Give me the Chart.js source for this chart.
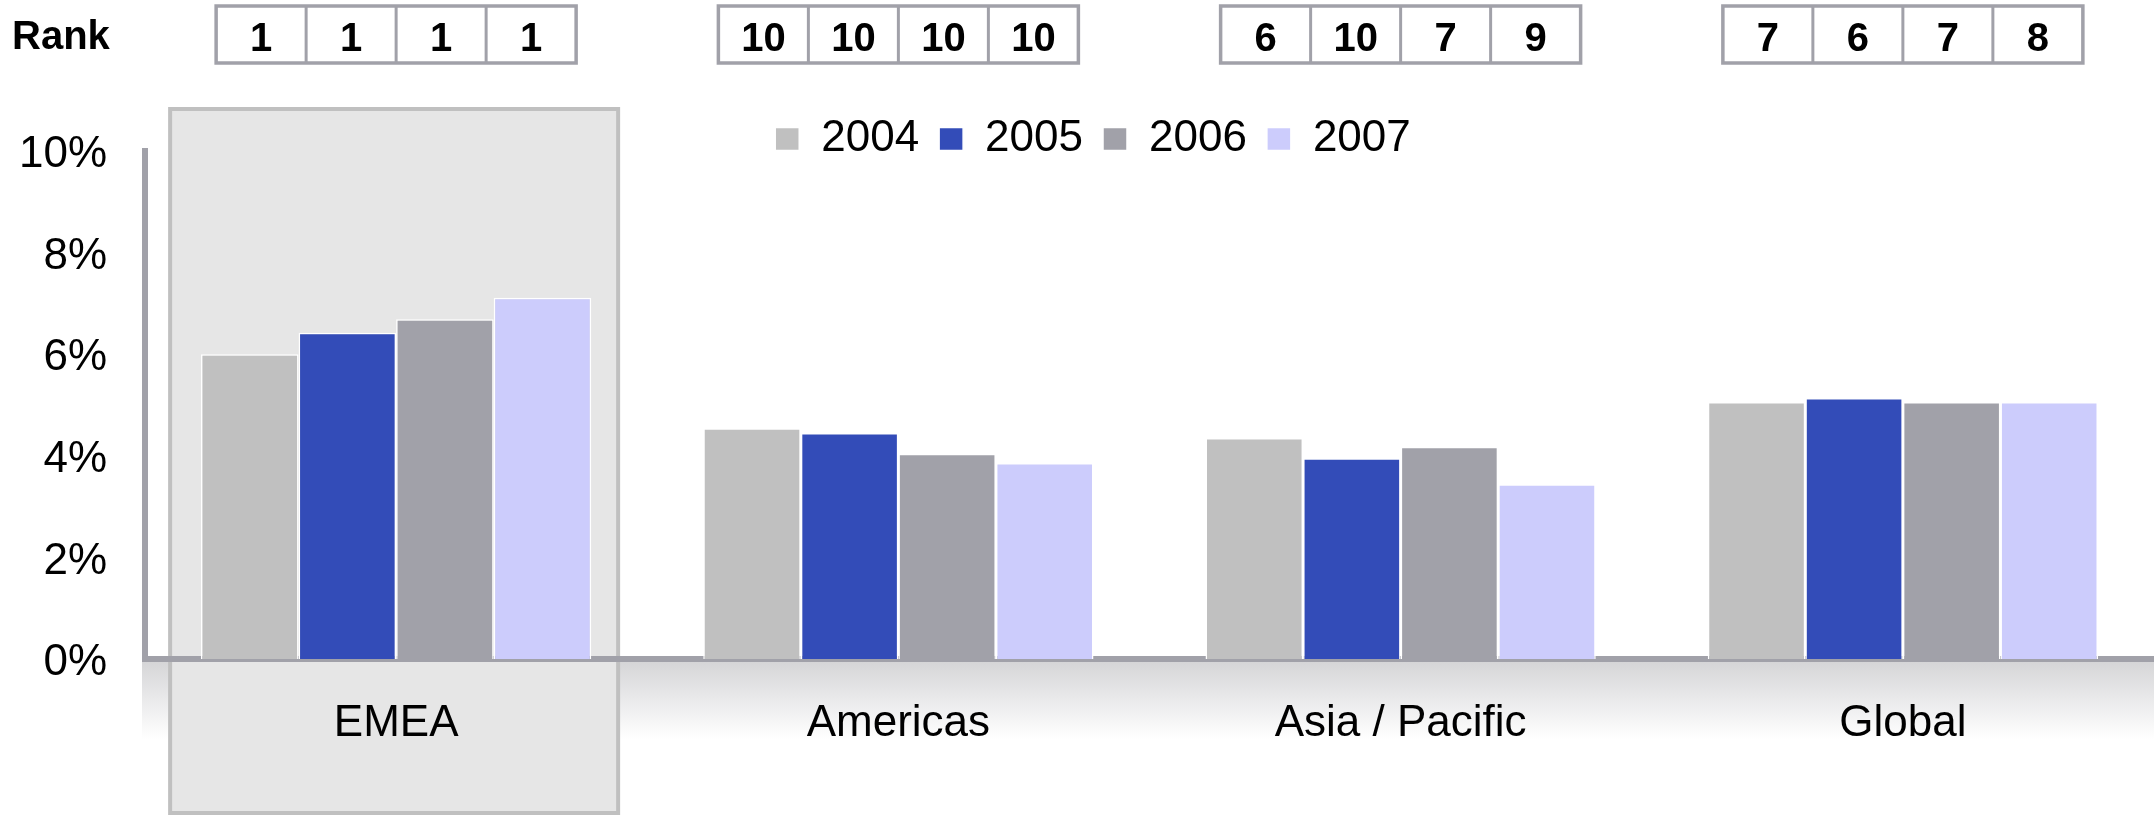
<!DOCTYPE html>
<html>
<head>
<meta charset="utf-8">
<script src="https://cdn.jsdelivr.net/npm/chart.js"></script>
<style>
  html, body { margin: 0; padding: 0; background: #fff; }
  #wrap { width: 2154px; height: 815px; position: relative; }
</style>
</head>
<body>
<div id="wrap"><canvas id="myChart"></canvas></div>
<script>
// data
const categories = ['EMEA', 'Americas', 'Asia / Pacific', 'Global'];
const years = ['2004', '2005', '2006', '2007'];

const share2004 = [6.0, 4.54, 4.35, 5.06];
const share2005 = [6.42, 4.45, 3.95, 5.14];
const share2006 = [6.69, 4.04, 4.18, 5.06];
const share2007 = [7.11, 3.86, 3.44, 5.06];

const rank2004 = [1, 10, 6, 7];
const rank2005 = [1, 10, 10, 6];
const rank2006 = [1, 10, 7, 7];
const rank2007 = [1, 10, 9, 8];

const yTickValues = [0, 2, 4, 6, 8, 10];

const colors = ['#c0c0c0', '#334cb8', '#a1a1a9', '#ccccfc'];
const axisGrey = '#a1a1a9';
const fontFamily = '"Liberation Sans", Arial, Helvetica, sans-serif';

Chart.defaults.font.family = fontFamily;
Chart.defaults.color = '#000';

// grey band under the baseline + shaded box behind EMEA
const backdrop = {
  id: 'backdrop',
  afterLayout(chart) {
    // legend sits a bit right of the canvas centre
    chart.legend.left += 16;
    chart.legend.right += 16;
  },
  beforeDraw(chart) {
    const ctx = chart.ctx;
    const area = chart.chartArea;
    const x = chart.scales.x;
    ctx.save();
    const g = ctx.createLinearGradient(0, area.bottom, 0, area.bottom + 80);
    g.addColorStop(0, '#d4d4d6');
    g.addColorStop(1, '#ffffff');
    ctx.fillStyle = g;
    ctx.fillRect(area.left - 3, area.bottom, area.right - area.left + 3, 80);

    const cx = x.getPixelForValue(0);
    ctx.fillStyle = '#e6e6e6';
    ctx.fillRect(cx - 226, 109, 448, 706);
    ctx.strokeStyle = '#c0c0c0';
    ctx.lineWidth = 4;
    ctx.strokeRect(cx - 226, 109, 448, 704);
    ctx.restore();
  }
};

// rank boxes above every region
const rankRow = {
  id: 'rankRow',
  afterDraw(chart) {
    const ctx = chart.ctx;
    const x = chart.scales.x;
    const ranks = [rank2004, rank2005, rank2006, rank2007];
    const cellW = 90;
    ctx.save();
    ctx.fillStyle = '#000';
    ctx.font = 'bold 40px ' + fontFamily;
    ctx.textAlign = 'left';
    ctx.textBaseline = 'alphabetic';
    ctx.fillText('Rank', 12, 49);

    ctx.font = 'bold 40px ' + fontFamily;
    ctx.textAlign = 'center';
    categories.forEach((c, i) => {
      const cx = x.getPixelForValue(i);
      const left = cx - cellW * 2;
      ctx.fillStyle = '#fff';
      ctx.fillRect(left, 6, cellW * 4, 57);
      ctx.strokeStyle = axisGrey;
      ctx.lineWidth = 3.5;
      ctx.strokeRect(left, 6, cellW * 4, 57);
      ctx.lineWidth = 3;
      for (let k = 1; k < 4; k++) {
        ctx.beginPath();
        ctx.moveTo(left + k * cellW, 6);
        ctx.lineTo(left + k * cellW, 63);
        ctx.stroke();
      }
      ctx.fillStyle = '#000';
      ranks.forEach((r, k) => {
        ctx.fillText(String(r[i]), left + k * cellW + cellW / 2, 51);
      });
    });
    ctx.restore();
  }
};

const ctx = document.getElementById('myChart');
let myChart = new Chart(ctx, {
  type: 'bar',
  data: {
    labels: categories,
    datasets: [share2004, share2005, share2006, share2007].map((d, i) => ({
      label: years[i],
      data: d,
      backgroundColor: colors[i],
      borderColor: '#ffffff',
      borderWidth: 1.5,
      borderSkipped: 'start',
      categoryPercentage: 0.777,
      barPercentage: 1.0
    }))
  },
  options: {
    responsive: true,
    maintainAspectRatio: false,
    animation: false,
    layout: { padding: { top: 97, left: 0, right: 0, bottom: 0 } },
    plugins: {
      tooltip: { enabled: false },
      legend: {
        position: 'top',
        align: 'center',
        maxHeight: 54,
        labels: {
          boxWidth: 24,
          boxHeight: 23,
          padding: 20,
          color: '#000',
          font: { size: 44 }
        }
      }
    },
    scales: {
      x: {
        z: 1,
        offset: true,
        grid: { display: false, drawTicks: false },
        border: { display: true, color: axisGrey, width: 6 },
        ticks: { padding: 38, color: '#000', font: { size: 44 }, maxRotation: 0 },
        afterFit(scale) { scale.height = 156; }
      },
      y: {
        min: 0,
        max: 10,
        grid: { display: false, drawTicks: false },
        border: { display: true, color: axisGrey, width: 6 },
        afterBuildTicks(scale) { scale.ticks = yTickValues.map(v => ({ value: v })); },
        ticks: {
          padding: 38,
          labelOffset: 4,
          color: '#000',
          font: { size: 44 },
          callback: v => v + '%'
        },
        afterFit(scale) { scale.width = 145; }
      }
    }
  },
  plugins: [backdrop, rankRow]
});
</script>
</body>
</html>
